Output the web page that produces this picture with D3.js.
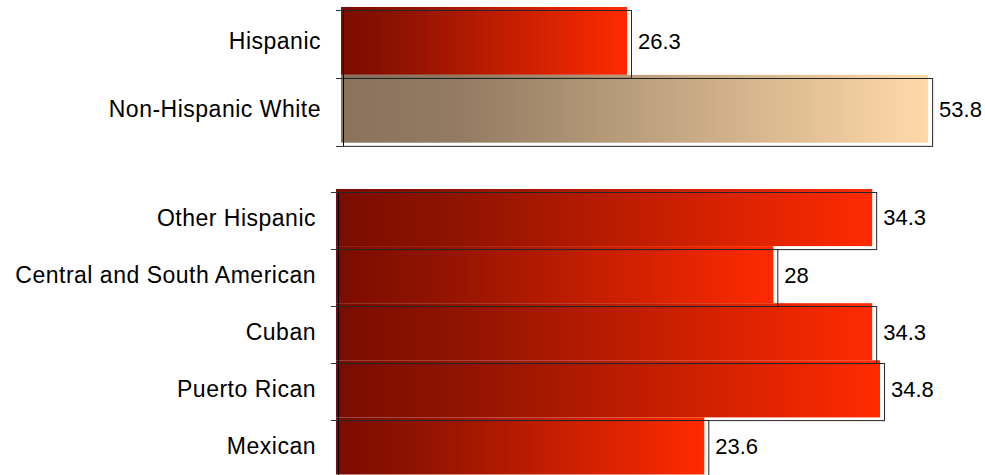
<!DOCTYPE html>
<html>
<head>
<meta charset="utf-8">
<script src="https://cdn.jsdelivr.net/npm/d3@7"></script>
<style>
  body { margin: 0; background: #fff; }
  text { font-family: "Liberation Sans", Arial, sans-serif; fill: #000; }
</style>
</head>
<body>
<div id="chart"></div>
<script>
// data
var topCategories = ["Hispanic", "Non-Hispanic White"];
var topValues = [26.3, 53.8];
var topColors = ["red", "tan"];

var bottomCategories = ["Other Hispanic", "Central and South American", "Cuban", "Puerto Rican", "Mexican"];
var bottomValues = [34.3, 28, 34.3, 34.8, 23.6];

var svgWidth = 985;
var svgHeight = 475;

var svg = d3.select("#chart")
  .append("svg")
  .attr("width", svgWidth)
  .attr("height", svgHeight);

// gradients
var defs = svg.append("defs");

var redGrad = defs.append("linearGradient").attr("id", "red");
redGrad.append("stop").attr("offset", "0%").attr("stop-color", "#7a0c00");
redGrad.append("stop").attr("offset", "22%").attr("stop-color", "#8f1300");
redGrad.append("stop").attr("offset", "100%").attr("stop-color", "#ff2a00");

var tanGrad = defs.append("linearGradient").attr("id", "tan");
tanGrad.append("stop").attr("offset", "0%").attr("stop-color", "#8a735d");
tanGrad.append("stop").attr("offset", "20%").attr("stop-color", "#927b62");
tanGrad.append("stop").attr("offset", "100%").attr("stop-color", "#ffd9a8");

function drawGroup(categories, values, colors, xScale, y0, y1) {
  var yScale = d3.scaleBand()
    .domain(categories)
    .range([y0, y1])
    .padding(0);

  var x0 = xScale(0);
  var g = svg.append("g");
  var rows = categories.map(function(c, i) {
    return { cat: c, value: values[i], color: colors[i] };
  });

  // gradient fills, shifted up/left like a shadowed box
  g.selectAll("rect.fill")
    .data(rows)
    .enter()
    .append("rect")
    .attr("class", "fill")
    .attr("x", x0 - 2)
    .attr("y", d => yScale(d.cat) - 3)
    .attr("width", d => xScale(d.value) - x0 - 2)
    .attr("height", yScale.bandwidth())
    .attr("fill", d => "url(#" + d.color + ")");

  // outlines
  g.selectAll("rect.outline")
    .data(rows)
    .enter()
    .append("rect")
    .attr("class", "outline")
    .attr("x", x0 + 0.5)
    .attr("y", d => Math.round(yScale(d.cat)) + 0.5)
    .attr("width", d => xScale(d.value) - x0)
    .attr("height", yScale.bandwidth())
    .attr("fill", "none")
    .attr("stroke", "#262626")
    .attr("stroke-width", 1);

  // ticks at band edges
  var edges = categories.map(c => yScale(c)).concat([y1]);
  g.selectAll("line.tick")
    .data(edges)
    .enter()
    .append("line")
    .attr("x1", x0 - 7)
    .attr("x2", x0)
    .attr("y1", d => Math.round(d) + 0.5)
    .attr("y2", d => Math.round(d) + 0.5)
    .attr("stroke", "#333");

  // axis line
  g.append("line")
    .attr("x1", x0 + 0.5)
    .attr("x2", x0 + 0.5)
    .attr("y1", y0)
    .attr("y2", y1)
    .attr("stroke", "#000");

  // category labels
  g.selectAll("text.cat")
    .data(rows)
    .enter()
    .append("text")
    .attr("x", x0 - 22)
    .attr("y", d => yScale(d.cat) - 3 + yScale.bandwidth() / 2)
    .attr("dy", "0.36em")
    .attr("text-anchor", "end")
    .style("font-size", "23px")
    .style("letter-spacing", "0.5px")
    .text(d => d.cat);

  // value labels
  g.selectAll("text.val")
    .data(rows)
    .enter()
    .append("text")
    .attr("x", d => xScale(d.value) + 7)
    .attr("y", d => yScale(d.cat) - 3 + yScale.bandwidth() / 2)
    .attr("dy", "0.36em")
    .style("font-size", "22px")
    .text(d => d.value);
}

var xTop = d3.scaleLinear().domain([0, 60]).range([343, 343 + 657]);
var xBottom = d3.scaleLinear().domain([0, 40]).range([338, 338 + 627.6]);

drawGroup(topCategories, topValues, topColors, xTop, 10, 145.7);
drawGroup(bottomCategories, bottomValues, bottomCategories.map(() => "red"), xBottom, 192, 477.5);
</script>
</body>
</html>
